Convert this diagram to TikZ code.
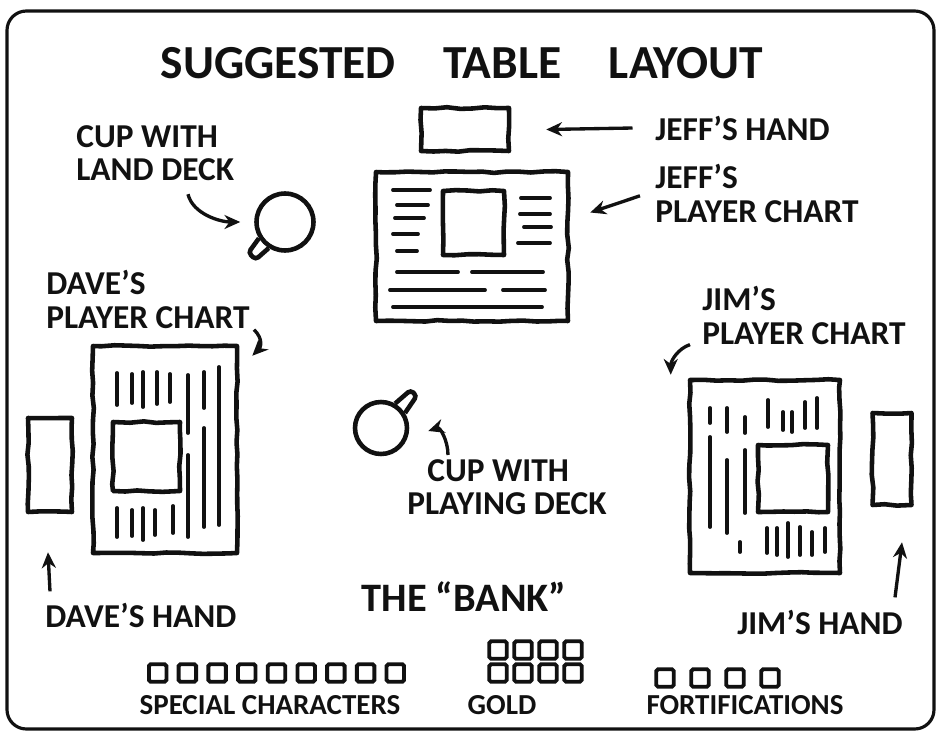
\documentclass[tikz,border=0pt]{standalone}
\usepackage{fontspec}
\setmainfont{Carlito}
\usepackage{tikz}
\usetikzlibrary{arrows.meta, positioning, calc, decorations.pathmorphing}
\definecolor{ink}{HTML}{111111}
\pgfmathsetseed{42}

\begin{document}
\begin{tikzpicture}[
        x=0.02cm, y=-0.02cm,
        sketch/.style={
            draw=ink,
            line width=2.6pt,
            line join=round,
            decorate,
            decoration={random steps, segment length=7pt, amplitude=0.5pt}
        },
        box/.style 2 args={sketch, minimum width=#1, minimum height=#2, inner sep=0pt},
        cup/.style={draw=ink, line width=2.6pt, circle, minimum size=#1, inner sep=0pt},
        token/.style={draw=ink, line width=2.2pt, rounded corners=1pt, minimum size=0.35cm, inner sep=0pt},
        rule/.style={draw=ink, line width=2.2pt, line cap=round},
        lbl/.style={font=\bfseries\fontsize{19}{19}\selectfont, text=ink, inner sep=0pt, align=left},
        small/.style={font=\bfseries\fontsize{16.5}{17}\selectfont, text=ink, inner sep=0pt},
        pointer/.style={-{Stealth[length=9pt,width=8pt]}, line width=1.9pt, draw=ink}
    ]
        \useasboundingbox (0,0) rectangle (940,734);
        \draw[draw=ink, line width=1.8pt, rounded corners=11pt] (7,11) rectangle (934,729);

        % Title
        \node[font=\bfseries\fontsize{27}{27}\selectfont, text=ink] (title) at (462,63)
            {SUGGESTED\quad TABLE\quad LAYOUT};

        % Jeff
        \node[box={1.76cm}{0.86cm}] (jeffhand) at (465,129.5) {};
        \node[box={3.84cm}{2.98cm}] (jeffchart) at (472,246.5) {};
        \node[box={1.22cm}{1.28cm}] (jeffsquare) at (473.5,223) {};
        \foreach \y/\a/\b in {190/393/430, 205/397/428, 218/395/424, 234/393/418, 251/397/417,
                             198/521/550, 214/520/550, 227/524/551, 243/518/550,
                             272/397/458, 272/472/543, 290/390/485, 290/503/545, 307/393/542}
            \draw[rule] (\a,\y) -- (\b,\y);
        \node[lbl, anchor=west] (jeffhandlbl) at (655,128) {JEFF'S HAND};
        \node[lbl, anchor=north west] (jeffchartlbl) at (655,164) {JEFF'S\\PLAYER CHART};

        % Cups
        \node[cup=1.14cm] (landcup) at (285,222) {};
        \draw[draw=ink, line width=2.6pt, rounded corners=2pt]
            (landcup.212) -- ($(landcup.center)!1.55!(landcup.220)$)
            -- ($(landcup.center)!1.55!(landcup.232)$) -- (landcup.238);
        \node[lbl, anchor=north west] (landlbl) at (76,125) {CUP WITH\\LAND DECK};

        \node[cup=1.04cm] (playcup) at (381,428) {};
        \draw[draw=ink, line width=2.6pt, rounded corners=2pt]
            (playcup.32) -- ($(playcup.center)!1.7!(playcup.42)$)
            -- ($(playcup.center)!1.7!(playcup.52)$) -- (playcup.60);
        \node[lbl, anchor=north west] (playlbl) at (407,459) {\hspace*{0.4cm}CUP WITH\\PLAYING DECK};

        % Dave
        \node[box={2.88cm}{4.14cm}] (davechart) at (165,449.5) {};
        \node[box={1.34cm}{1.38cm}] (davesquare) at (146.5,456.5) {};
        \foreach \x/\a/\b in {117/373/405, 132/374/403, 143/372/407, 157/372/404, 170/374/402,
                             188/375/433, 188/455/537, 204/372/408, 204/428/527, 219/367/525,
                             117/508/537, 132/510/536, 143/508/540, 155/510/535, 173/506/533}
            \draw[rule] (\x,\a) -- (\x,\b);
        \node[box={0.88cm}{1.88cm}] (davehand) at (50,465) {};
        \node[lbl, anchor=north west] (davelbl) at (46,270) {DAVE'S\\PLAYER CHART};
        \node[lbl, anchor=west] (davehandlbl) at (45,615) {DAVE'S HAND};

        % Jim
        \node[box={3.0cm}{3.86cm}] (jimchart) at (765,476.5) {};
        \node[box={1.4cm}{1.34cm}] (jimsquare) at (793,478.5) {};
        \foreach \x/\a/\b in {710/408/423, 710/437/527, 727/408/432, 727/460/533, 745/417/433, 745/450/513,
                             768/400/427, 783/412/430, 792/412/432, 805/402/428, 817/398/428,
                             740/542/552, 767/528/553, 777/528/555, 788/523/557, 800/527/555, 812/532/555, 825/528/552}
            \draw[rule] (\x,\a) -- (\x,\b);
        \node[box={0.78cm}{1.84cm}] (jimhand) at (892,459) {};
        \node[lbl, anchor=north west] (jimlbl) at (702,286) {JIM'S\\PLAYER CHART};
        \node[lbl, anchor=east] (jimhandlbl) at (903,622) {JIM'S HAND};

        % The bank
        \node[lbl, font=\bfseries\fontsize{23}{23}\selectfont] (banklbl) at (464,597) {THE ``BANK''};
        \foreach \i in {1,...,9}
            \node[token] (special\i) at ({128+29.7*\i},673) {};
        \foreach \i in {1,...,4} {
            \node[token] (goldtop\i) at ({473+25*\i},650) {};
            \node[token] (goldlow\i) at ({473+25*\i},673) {};
        }
        \foreach \i in {1,...,4}
            \node[token] (fort\i) at ({630+35*\i},678) {};
        \node[small] (speciallbl) at (270,705) {SPECIAL CHARACTERS};
        \node[small] (goldlbl) at (502,705) {GOLD};
        \node[small] (fortlbl) at (745,705) {FORTIFICATIONS};

        % Arrows
        \draw[pointer] ([xshift=-0.45cm]jeffhandlbl.west) -- ([xshift=0.7cm]jeffhand.east);
        \draw[pointer] ([xshift=-0.3cm,yshift=-0.05cm]jeffchartlbl.west) -- ([xshift=0.4cm,yshift=0.68cm]jeffchart.east);
        \draw[pointer] ([xshift=2.24cm,yshift=-0.26cm]landlbl.south west)
            .. controls +(5,20) and +(-20,0) .. ([xshift=-0.28cm]landcup.west);
        \draw[pointer] ([xshift=0.08cm,yshift=-0.02cm]davelbl.south east)
            .. controls +(10,10) and +(8,-8) .. ([xshift=0.26cm,yshift=-0.24cm]davechart.north east);
        \draw[pointer] ([xshift=0.82cm,yshift=0.08cm]playlbl.north west)
            .. controls +(0,-14) and +(12,-4) .. ([xshift=0.38cm,yshift=-0.06cm]playcup.east);
        \draw[pointer] ([xshift=-0.24cm]jimlbl.south west)
            .. controls +(-12,4) and +(0,-14) .. ([xshift=-0.34cm,yshift=0.06cm]jimchart.north west);
        \draw[pointer] ([xshift=0.1cm,yshift=0.22cm]davehandlbl.north west) -- ([xshift=-0.04cm,yshift=-0.76cm]davehand.south);
        \draw[pointer] ([xshift=-0.16cm,yshift=0.24cm]jimhandlbl.north east) -- ([xshift=0.2cm,yshift=-0.7cm]jimhand.south);
\end{tikzpicture}
\end{document}
